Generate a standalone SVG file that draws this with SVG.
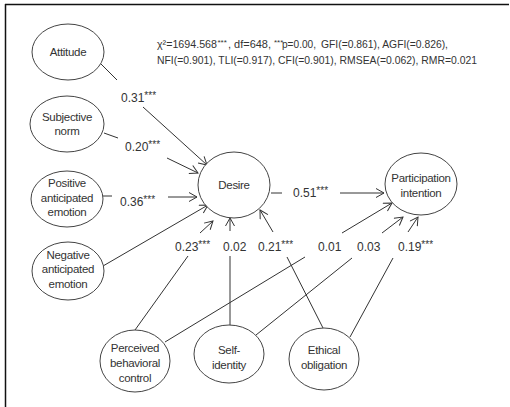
<svg xmlns="http://www.w3.org/2000/svg" width="510" height="407" viewBox="0 0 510 407">
<defs>
<marker id="arr" markerUnits="userSpaceOnUse" markerWidth="12" markerHeight="12" refX="9" refY="5" orient="auto">
<path d="M1,0.5 L9,5 L1,9.5" fill="none" stroke="#333" stroke-width="1"/>
</marker>
<style>
.n ellipse{fill:#fff;stroke:#444;stroke-width:1}
text{font-family:"Liberation Sans",Arial,sans-serif;fill:#333}
.t{font-size:11.5px;letter-spacing:-0.3px;text-anchor:middle}
.l{font-size:12px}
.st{font-size:10px;baseline-shift:3px}
.f{font-size:11px}
.fs{font-size:8px}
.c line{stroke:#333;stroke-width:1}
.c .a{marker-end:url(#arr)}
</style>
</defs>
<rect width="510" height="407" fill="#fff"/>
<line x1="5" y1="4.5" x2="509" y2="4.5" stroke="#111" stroke-width="1.5"/>
<line x1="5.5" y1="4" x2="5.5" y2="407" stroke="#111" stroke-width="1.5"/>

<g id="connectors" class="c">
<line x1="101" y1="64" x2="117" y2="80"/>
<line class="a" x1="143" y1="107" x2="207" y2="165"/>
<line x1="104" y1="133" x2="118" y2="138"/>
<line class="a" x1="167" y1="158" x2="198" y2="173"/>
<line x1="103" y1="196" x2="112" y2="196"/>
<line class="a" x1="168" y1="197" x2="197" y2="197"/>
<line class="a" x1="103" y1="266" x2="208" y2="205"/>
<line x1="135" y1="330" x2="188" y2="256"/>
<line class="a" x1="200" y1="233" x2="213" y2="221"/>
<line x1="230" y1="326" x2="230" y2="256"/>
<line class="a" x1="230" y1="231" x2="230" y2="218"/>
<line x1="323" y1="328" x2="287" y2="257"/>
<line class="a" x1="273" y1="232" x2="260" y2="210"/>
<line x1="271" y1="193" x2="282" y2="193"/>
<line class="a" x1="340" y1="193" x2="384" y2="193"/>
<line x1="165" y1="342" x2="305" y2="257"/>
<line class="a" x1="342" y1="233" x2="392" y2="203"/>
<line x1="256" y1="335" x2="352" y2="258"/>
<line class="a" x1="382" y1="233" x2="403" y2="217"/>
<line x1="350" y1="337" x2="393" y2="258"/>
<line class="a" x1="408" y1="232" x2="418" y2="217"/>
</g>

<g id="attitude" class="n"><ellipse cx="68" cy="52" rx="36" ry="28"/><text class="t" x="68" y="56">Attitude</text></g>
<g id="subjective-norm" class="n"><ellipse cx="67" cy="124" rx="37" ry="28"/><text class="t" x="67" y="121">Subjective</text><text class="t" x="67" y="135">norm</text></g>
<g id="positive-emotion" class="n"><ellipse cx="67" cy="199" rx="36" ry="28"/><text class="t" x="67" y="187">Positive</text><text class="t" x="67" y="202">anticipated</text><text class="t" x="67" y="216">emotion</text></g>
<g id="negative-emotion" class="n"><ellipse cx="68" cy="271" rx="36" ry="29"/><text class="t" x="68" y="259">Negative</text><text class="t" x="68" y="273">anticipated</text><text class="t" x="68" y="288">emotion</text></g>
<g id="desire" class="n"><ellipse cx="234" cy="185" rx="36" ry="33"/><text class="t" x="234" y="189">Desire</text></g>
<g id="participation-intention" class="n"><ellipse cx="421" cy="184" rx="36" ry="31"/><text class="t" x="421" y="182">Participation</text><text class="t" x="421" y="197">intention</text></g>
<g id="perceived-behavioral-control" class="n"><ellipse cx="135" cy="361" rx="35" ry="31"/><text class="t" x="135" y="352">Perceived</text><text class="t" x="135" y="367">behavioral</text><text class="t" x="135" y="382">control</text></g>
<g id="self-identity" class="n"><ellipse cx="229" cy="354" rx="35" ry="29"/><text class="t" x="229" y="354">Self-</text><text class="t" x="229" y="369">identity</text></g>
<g id="ethical-obligation" class="n"><ellipse cx="324" cy="359" rx="35" ry="31"/><text class="t" x="324" y="354">Ethical</text><text class="t" x="324" y="369">obligation</text></g>

<g id="labels">
<text class="l" x="121" y="102">0.31<tspan class="st">***</tspan></text>
<text class="l" x="125" y="151">0.20<tspan class="st">***</tspan></text>
<text class="l" x="120" y="206">0.36<tspan class="st">***</tspan></text>
<text class="l" x="175" y="251">0.23<tspan class="st">***</tspan></text>
<text class="l" x="223" y="251">0.02</text>
<text class="l" x="258" y="251">0.21<tspan class="st">***</tspan></text>
<text class="l" x="293" y="197">0.51<tspan class="st">***</tspan></text>
<text class="l" x="318" y="251">0.01</text>
<text class="l" x="357" y="251">0.03</text>
<text class="l" x="398" y="251">0.19<tspan class="st">***</tspan></text>
</g>

<g id="fit">
<text class="f" x="157" y="48" textLength="60" lengthAdjust="spacingAndGlyphs">χ²=1694.568</text>
<text class="fs" x="217.5" y="45">***</text>
<text class="f" x="228" y="48" textLength="43" lengthAdjust="spacingAndGlyphs">, df=648,</text>
<text class="fs" x="274" y="45">***</text>
<text class="f" x="282" y="48" textLength="34" lengthAdjust="spacingAndGlyphs">p=0.00,</text>
<text class="f" x="321" y="48" textLength="127" lengthAdjust="spacingAndGlyphs">GFI(=0.861), AGFI(=0.826),</text>
<text class="f" x="157" y="64" textLength="320" lengthAdjust="spacingAndGlyphs">NFI(=0.901), TLI(=0.917), CFI(=0.901), RMSEA(=0.062), RMR=0.021</text>
</g>
</svg>
